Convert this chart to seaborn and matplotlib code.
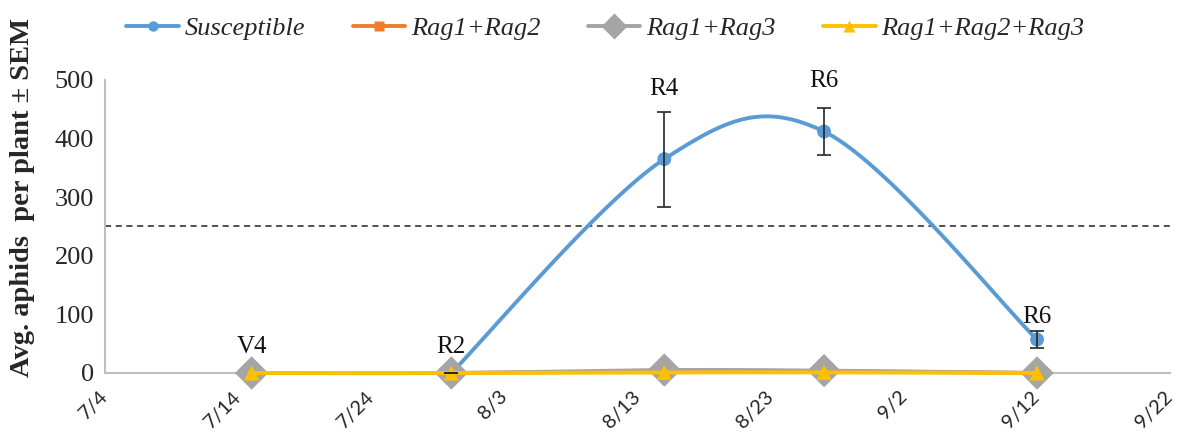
import numpy as np
import pandas as pd
import matplotlib
matplotlib.use("Agg")
import matplotlib.pyplot as plt
import matplotlib.dates as mdates
from matplotlib.lines import Line2D
import seaborn as sns

# ---------------- data ----------------
sus_dates = ["2018-07-30", "2018-08-15", "2018-08-27", "2018-09-12"]
sus_vals = [0, 365, 412, 57]
sus_sem = [0, 81, 40, 14]

res_dates = ["2018-07-15", "2018-07-30", "2018-08-15", "2018-08-27", "2018-09-12"]
rag12_vals = [0, 0, 3, 3, 0]
rag13_vals = [0, 0, 5, 4, 0]
rag123_vals = [0, 0, 1, 1, 0]

stage_dates = ["2018-07-15", "2018-07-30", "2018-08-15", "2018-08-27", "2018-09-12"]
stage_labels = ["V4", "R2", "R4", "R6", "R6"]
stage_y = [0, 0, 365, 412, 57]
threshold = 250

tick_dates = pd.date_range("2018-07-04", "2018-09-22", freq="10D")
series_names = ["Susceptible", "Rag1+Rag2", "Rag1+Rag3", "Rag1+Rag2+Rag3"]
colors = ["#5B9BD5", "#ED7D31", "#A5A5A5", "#FFC000"]
markers = ["o", "s", "D", "^"]
msizes = [10, 9, 17, 11]

# ---------------- helpers ----------------
def smooth(x, y, n=40):
    """Excel-style smoothed line (Catmull-Rom Bezier)."""
    x = np.asarray(x, float); y = np.asarray(y, float)
    P = np.column_stack([x, y])
    out = []
    for i in range(len(P) - 1):
        p0 = P[i - 1] if i > 0 else P[i]
        p1 = P[i]; p2 = P[i + 1]
        p3 = P[i + 2] if i + 2 < len(P) else P[i + 1]
        c1 = p1 + (p2 - p0) / 6.0
        c2 = p2 - (p3 - p1) / 6.0
        t = np.linspace(0, 1, n)[:, None]
        seg = ((1 - t) ** 3) * p1 + 3 * ((1 - t) ** 2) * t * c1 + 3 * (1 - t) * t ** 2 * c2 + t ** 3 * p2
        out.append(seg if i == 0 else seg[1:])
    arr = np.vstack(out)
    return arr[:, 0], arr[:, 1]

sns.set_theme(style="white")
plt.rcParams["font.family"] = ["Liberation Serif", "DejaVu Serif"]

fig = plt.figure(figsize=(11.82, 4.37), dpi=100)
ax = fig.add_axes([0.089, 0.1465, 0.901, 0.6705])

series = [
    (sus_dates, sus_vals),
    (res_dates, rag12_vals),
    (res_dates, rag13_vals),
    (res_dates, rag123_vals),
]
for k, ((d, v), name) in enumerate(zip(series, series_names)):
    xn = mdates.date2num(pd.to_datetime(d))
    sx, sy = smooth(xn, v)
    df_line = pd.DataFrame({"x": sx, "y": sy})
    sns.lineplot(data=df_line, x="x", y="y", ax=ax, color=colors[k], lw=2.8,
                 sort=False, estimator=None, zorder=2 + 2 * k, clip_on=False)
    df_pts = pd.DataFrame({"x": xn, "y": v})
    sns.scatterplot(data=df_pts, x="x", y="y", ax=ax, color=colors[k], marker=markers[k],
                    s=msizes[k] ** 2, edgecolor="none", zorder=3 + 2 * k, legend=False,
                    clip_on=False)

# error bars for susceptible
xs = mdates.date2num(pd.to_datetime(sus_dates))
ax.errorbar(xs, sus_vals, yerr=sus_sem, fmt="none", ecolor="#262626", elinewidth=1.2,
            capsize=5, capthick=1.2, zorder=12)

# threshold
ax.axhline(threshold, color="#222222", lw=1.1, ls=(0, (4, 3)), zorder=1)

# stage labels
offsets_px = [26, 26, 70, 51, 23]
for d, lab, yv, off in zip(stage_dates, stage_labels, stage_y, offsets_px):
    ax.annotate(lab, (mdates.date2num(pd.Timestamp(d)), yv), xytext=(0, off * 0.72),
                textcoords="offset points", ha="center", va="center", fontsize=18,
                color="#111111", zorder=13)

# axes styling
ax.set_xlim(mdates.date2num(pd.Timestamp("2018-07-04")), mdates.date2num(pd.Timestamp("2018-09-22")))
ax.set_ylim(0, 500)
ax.set_yticks([0, 100, 200, 300, 400, 500])
ax.set_xticks(mdates.date2num(tick_dates))
ax.set_xticklabels([f"{t.month}/{t.day}" for t in tick_dates], rotation=45, ha="right",
                   va="center", rotation_mode="anchor", fontsize=14.5,
                   family=["Lato", "DejaVu Sans"])
ax.tick_params(axis="y", labelsize=19, length=0, pad=8)
ax.tick_params(axis="x", length=0, pad=15)
ax.set_xlabel("")
ax.set_ylabel("Avg. aphids  per plant ± SEM", fontsize=20.5, fontweight="bold")
ax.yaxis.set_label_coords(-0.066, 0.6)
for s in ["top", "right"]:
    ax.spines[s].set_visible(False)
for s in ["left", "bottom"]:
    ax.spines[s].set_color("#BFBFBF")
    ax.spines[s].set_linewidth(1.5)
ax.grid(False)

handles = [Line2D([0], [0], color=c, lw=2.8, marker=m, markersize=ms * 0.75, markeredgecolor="none")
           for c, m, ms in zip(colors, markers, msizes)]
fig.legend(handles, series_names, loc="center", bbox_to_anchor=(0.512, 0.935), ncol=4, frameon=False,
           prop={"family": "Liberation Serif", "style": "italic", "size": 19},
           handlelength=2.0, columnspacing=1.8, handletextpad=0.2)

fig.savefig("out.png", dpi=100)
